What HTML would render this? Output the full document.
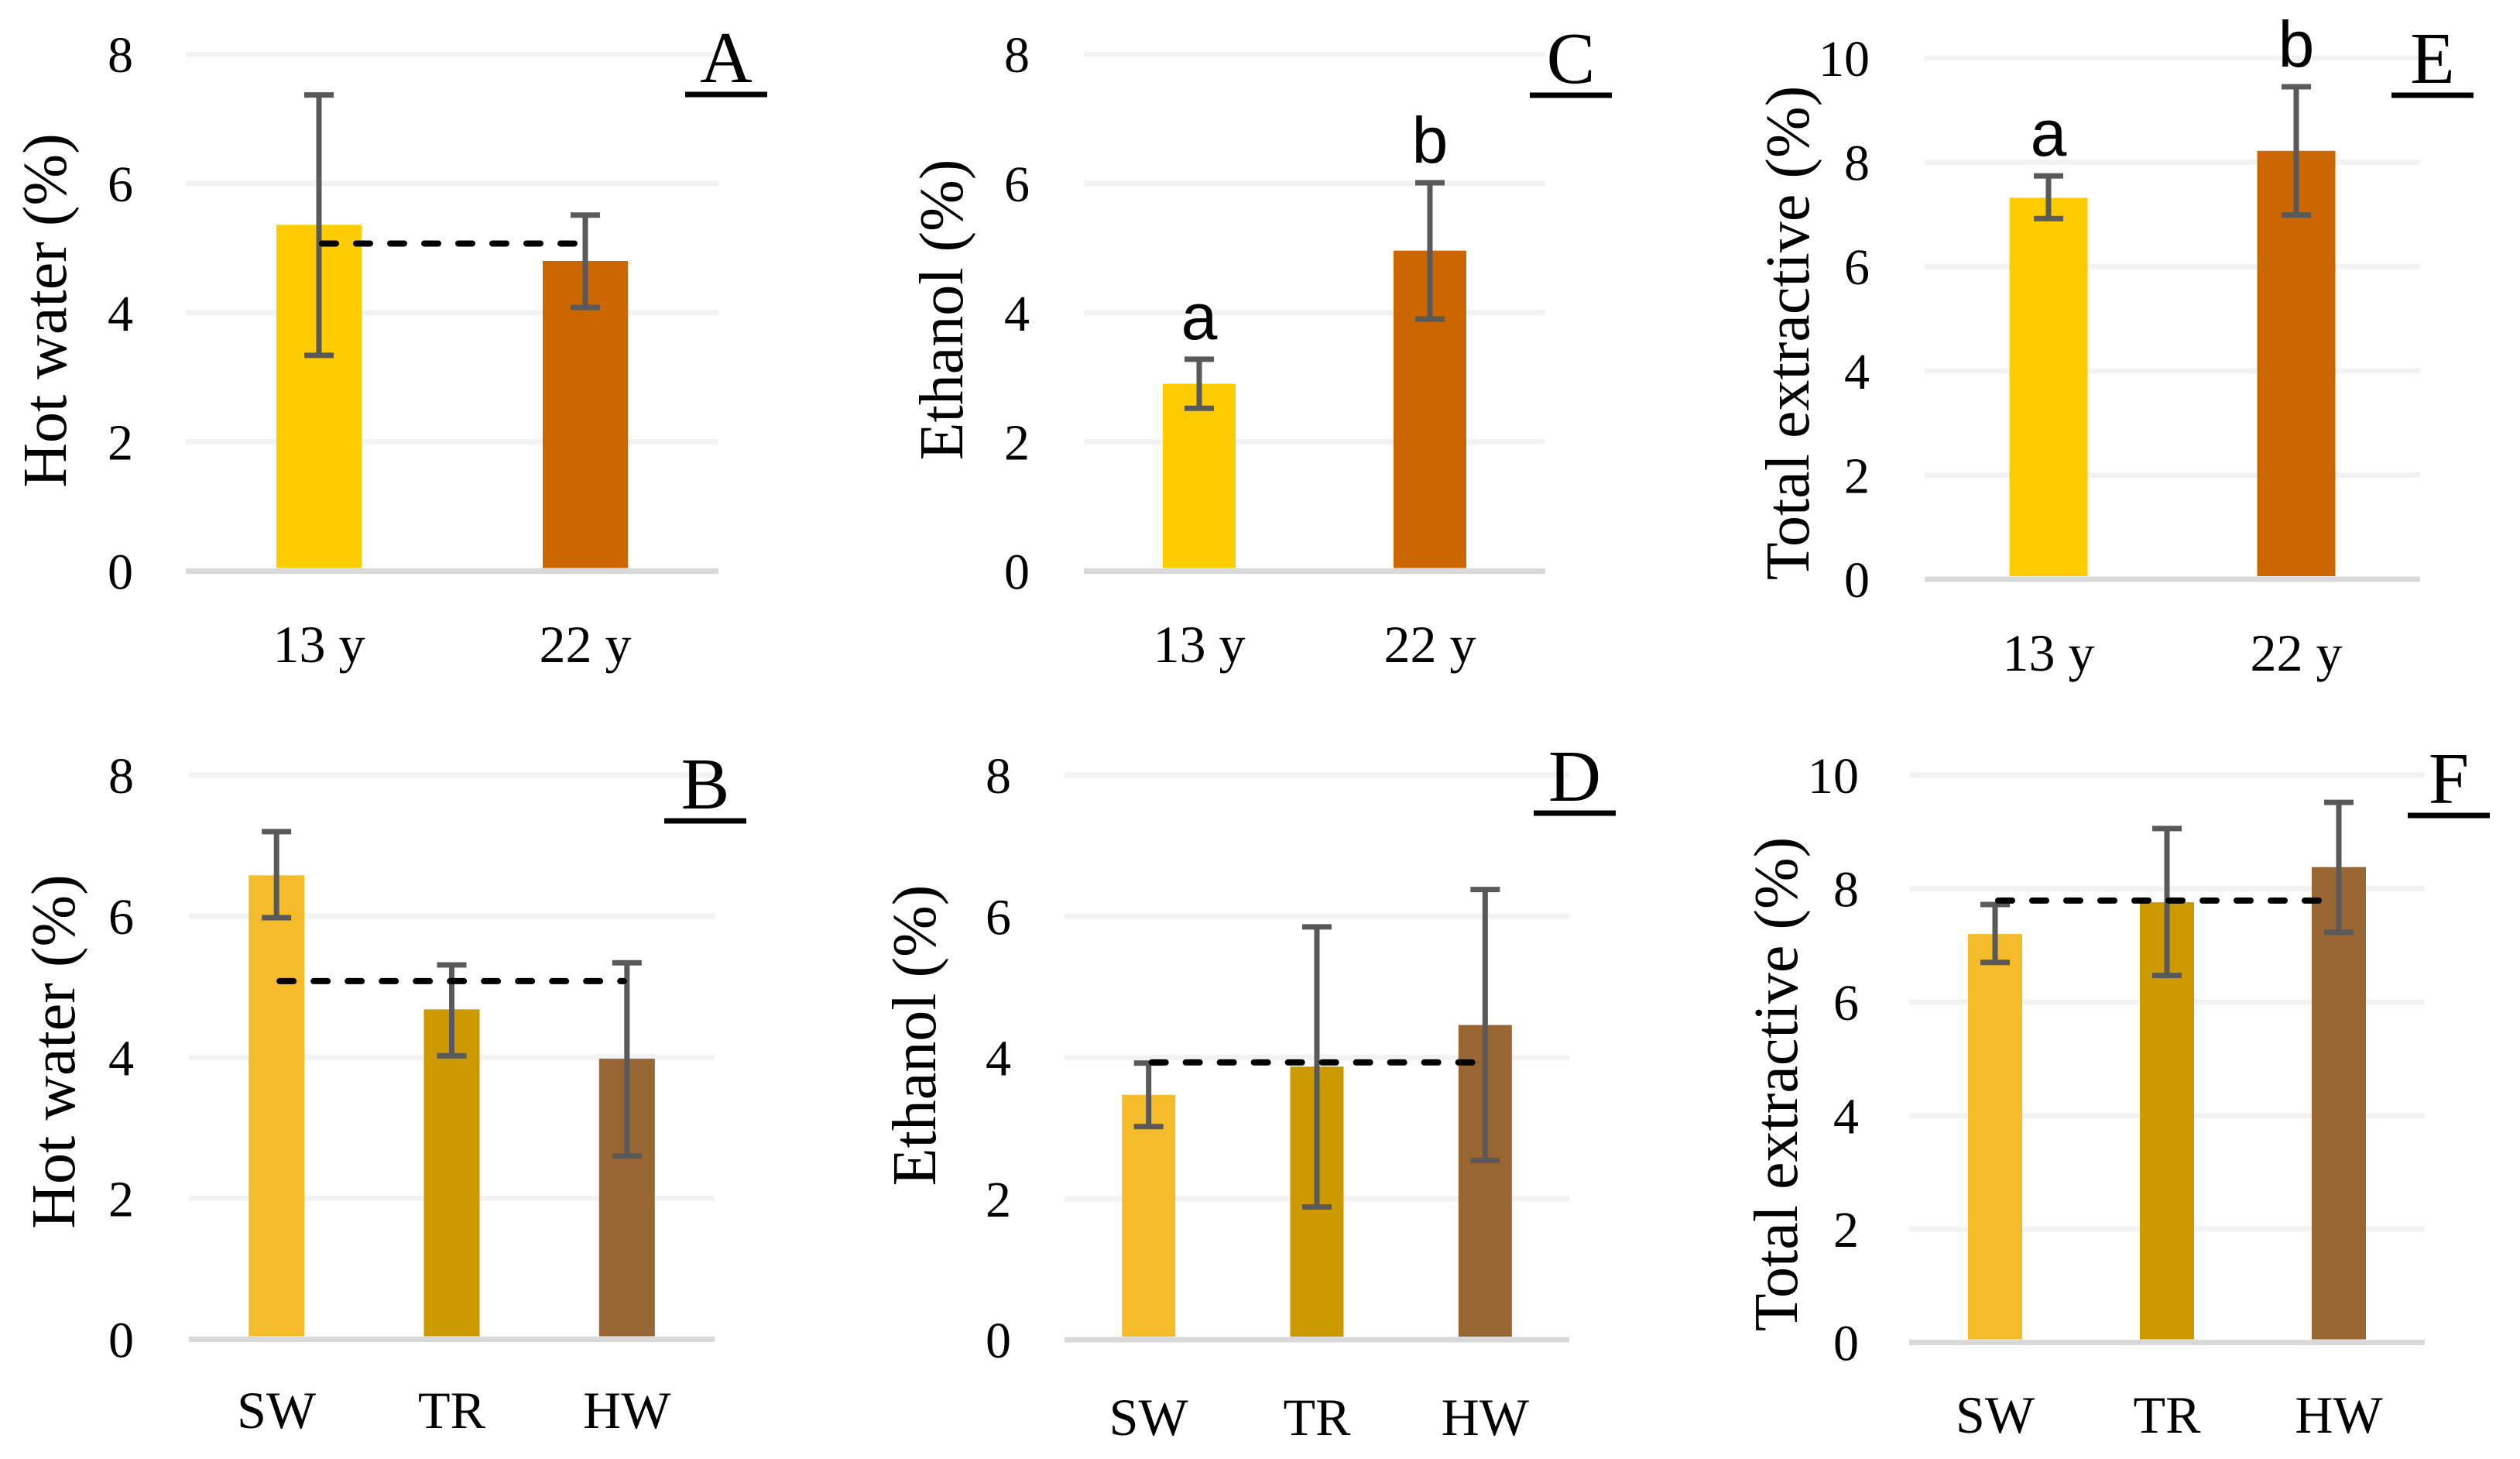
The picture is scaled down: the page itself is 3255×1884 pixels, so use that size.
<!DOCTYPE html>
<html><head><meta charset="utf-8"><style>
html,body{margin:0;padding:0;background:#fff;}
svg{display:block;}
</style></head><body>
<svg id="fig" xmlns="http://www.w3.org/2000/svg" width="3255" height="1884" viewBox="0 0 3255 1884"></svg>
<script>
// Panel A
const catsA = ["13 y","22 y"];
const valsA = [5.36, 4.80];
const hiA = [7.37, 5.51];
const loA = [3.34, 4.08];
const meanA = 5.07;
// Panel C
const catsC = ["13 y","22 y"];
const valsC = [2.90, 4.96];
const hiC = [3.28, 6.01];
const loC = [2.52, 3.90];
const sigC = ["a","b"];
// Panel E
const catsE = ["13 y","22 y"];
const valsE = [7.32, 8.22];
const hiE = [7.74, 9.45];
const loE = [6.92, 6.99];
const sigE = ["a","b"];
// Panel B
const catsB = ["SW","TR","HW"];
const valsB = [6.58, 4.68, 3.98];
const hiB = [7.20, 5.31, 5.34];
const loB = [5.98, 4.02, 2.60];
const meanB = 5.08;
// Panel D
const catsD = ["SW","TR","HW"];
const valsD = [3.47, 3.87, 4.46];
const hiD = [3.92, 5.85, 6.38];
const loD = [3.02, 1.88, 2.54];
const meanD = 3.93;
// Panel F
const catsF = ["SW","TR","HW"];
const valsF = [7.20, 7.76, 8.38];
const hiF = [7.72, 9.06, 9.52];
const loF = [6.70, 6.47, 7.23];
const meanF = 7.79;
const ticks8 = [0,2,4,6,8];
const ticks10 = [0,2,4,6,8,10];

const NS = "http://www.w3.org/2000/svg";
const svg = document.getElementById("fig");
function mk(tag, attrs, parent, text){
  const e = document.createElementNS(NS, tag);
  for (const k in attrs) e.setAttribute(k, attrs[k]);
  if (text !== undefined) e.textContent = text;
  (parent || svg).appendChild(e);
  return e;
}
const SERIF = '"Liberation Serif", serif';
const SANS = '"Liberation Sans", sans-serif';

function panel(p){
  const g = mk("g", {});
  
  
  const ymax = p.ticks[p.ticks.length-1];
  const yS = v => p.y0 - (p.y0 - p.yTop) * v / ymax;
  const n = p.cats.length;
  const slot = (p.x1 - p.x0) / n;
  const xC = i => p.x0 + slot * (i + 0.5);
  p.ticks.forEach(t => {
    if (t !== 0) {
      const gl = mk("line", {x1:p.x0, x2:p.x1, y1:yS(t), y2:yS(t), stroke:"#f2f2f2", "stroke-width":7}, g);
      
      
    }
    const tl = mk("text", {x:p.tickX, y:yS(t)+23, "text-anchor":"end", "font-family":SERIF, "font-size":66, fill:"#000"}, g, String(t));
    
    
  });
  p.vals.forEach((v,i) => {
    const b = mk("rect", {x:xC(i)-p.bw/2, y:yS(v), width:p.bw, height:(p.y0-4)-yS(v), fill:p.colors[i]}, g);
    
    
  });
  const ax = mk("line", {x1:p.x0, x2:p.x1, y1:p.y0, y2:p.y0, stroke:"#d9d9d9", "stroke-width":7}, g);
  
  
  p.vals.forEach((v,i) => {
    const eg = mk("g", {stroke:"#595959", "stroke-width":7}, g);
    
    
    mk("line", {x1:xC(i), x2:xC(i), y1:yS(p.hi[i]), y2:yS(p.lo[i])}, eg);
    mk("line", {x1:xC(i)-19, x2:xC(i)+19, y1:yS(p.hi[i]), y2:yS(p.hi[i])}, eg);
    mk("line", {x1:xC(i)-19, x2:xC(i)+19, y1:yS(p.lo[i]), y2:yS(p.lo[i])}, eg);
  });
  if (p.mean !== undefined) {
    const d = mk("line", {x1:xC(0)+4, x2:xC(n-1)-4, y1:yS(p.mean), y2:yS(p.mean), stroke:"#000", "stroke-width":8, "stroke-dasharray":"18 26", "stroke-linecap":"round"}, g);
    
    
  }
  if (p.sig) {
    p.sig.forEach((s,i) => {
      const t = mk("text", {x:xC(i), y:yS(p.hi[i])-26, "text-anchor":"middle", "font-family":SANS, "font-size":84, fill:"#000"}, g, s);
      
      
    });
  }
  p.cats.forEach((c,i) => {
    const t = mk("text", {x:xC(i), y:p.catY, "text-anchor":"middle", "font-family":SERIF, "font-size":68, fill:"#000"}, g, c);
    
    
  });
  const yt = mk("text", {x:0, y:0, transform:`translate(${p.titleX},${p.titleY}) rotate(-90)`, "text-anchor":"middle", "font-family":SERIF, "font-size":80, fill:"#000"}, g, p.title);
  
  
  const lt = mk("text", {x:p.lx, y:p.ly-16, "text-anchor":"middle", "font-family":SERIF, "font-size":94, fill:"#000"}, g, p.letter);
  
  
  const ul = mk("line", {x1:p.lx-53, x2:p.lx+53, y1:p.ly, y2:p.ly, stroke:"#000", "stroke-width":7}, g);
  
  
}

const topC = ["#FFCC00","#CC6600"];
const botC = ["#F4BC2B","#CC9900","#996633"];

panel({letter:"A", cats:catsA, vals:valsA, hi:hiA, lo:loA, mean:meanA, ticks:ticks8, colors:topC,
  x0:240, x1:928, yTop:70, y0:737.5, bw:110, tickX:172, catY:855, title:"Hot water (%)", titleX:85, titleY:401, lx:938, ly:122});
panel({letter:"C", cats:catsC, vals:valsC, hi:hiC, lo:loC, sig:sigC, ticks:ticks8, colors:topC,
  x0:1400, x1:1996, yTop:70, y0:737.5, bw:94, tickX:1330, catY:855, title:"Ethanol (%)", titleX:1243, titleY:400, lx:2029, ly:123});
panel({letter:"E", cats:catsE, vals:valsE, hi:hiE, lo:loE, sig:sigE, ticks:ticks10, colors:topC,
  x0:2486, x1:3126, yTop:75, y0:748, bw:101, tickX:2415, catY:866, title:"Total extractive (%)", titleX:2336, titleY:430, lx:3142, ly:123});
panel({letter:"B", cats:catsB, vals:valsB, hi:hiB, lo:loB, mean:meanB, ticks:ticks8, colors:botC,
  x0:244, x1:923, yTop:1001, y0:1729.5, bw:72, tickX:173, catY:1844, title:"Hot water (%)", titleX:96, titleY:1358, lx:911, ly:1060});
panel({letter:"D", cats:catsD, vals:valsD, hi:hiD, lo:loD, mean:meanD, ticks:ticks8, colors:botC,
  x0:1375, x1:2027, yTop:1001, y0:1730, bw:69, tickX:1306, catY:1853, title:"Ethanol (%)", titleX:1208, titleY:1337, lx:2034, ly:1050});
panel({letter:"F", cats:catsF, vals:valsF, hi:hiF, lo:loF, mean:meanF, ticks:ticks10, colors:botC,
  x0:2466, x1:3132, yTop:1001, y0:1733.5, bw:70, tickX:2401, catY:1850, title:"Total extractive (%)", titleX:2321, titleY:1400, lx:3163, ly:1053});
</script>
</body></html>
